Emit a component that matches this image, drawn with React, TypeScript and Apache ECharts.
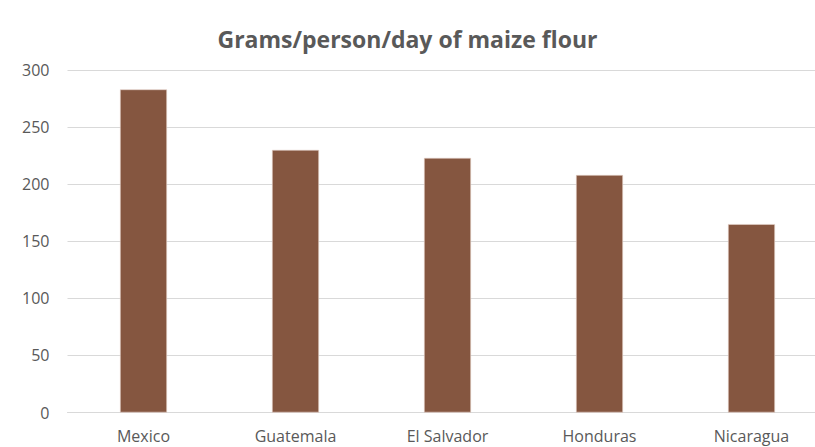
import React, { useEffect, useRef } from "react";
import * as echarts from "echarts";

const categories = ["Mexico", "Guatemala", "El Salvador", "Honduras", "Nicaragua"];
const values = [283, 230, 223, 208, 165];
const titleText = "Grams/person/day of maize flour";

export default function App() {
  const ref = useRef<HTMLDivElement>(null);
  useEffect(() => {
    if (!ref.current) return;
    const chart = echarts.init(ref.current, null, { renderer: "svg" });
    chart.setOption({
      animation: false,
      backgroundColor: "#ffffff",
      title: {
        text: titleText,
        left: "center",
        top: 22,
        textStyle: {
          fontFamily: "Open Sans",
          fontSize: 23,
          fontWeight: "bold",
          color: "#595959",
        },
      },
      grid: {
        left: 67.5,
        top: 70,
        width: 760,
        bottom: 34.5,
        containLabel: false,
        outerBoundsMode: "none",
      },
      xAxis: {
        type: "category",
        data: categories,
        axisLine: { show: true, lineStyle: { color: "#d9d9d9", width: 1 } },
        axisTick: { show: false },
        axisLabel: {
          color: "#595959",
          fontFamily: "Open Sans",
          fontSize: 16,
          margin: 15,
        },
      },
      yAxis: {
        type: "value",
        min: 0,
        max: 300,
        interval: 50,
        axisLine: { show: false },
        axisTick: { show: false },
        splitLine: { lineStyle: { color: "#d9d9d9", width: 1 } },
        axisLabel: {
          color: "#595959",
          fontFamily: "Open Sans",
          fontSize: 16,
          margin: 18,
        },
      },
      series: [
        {
          type: "bar",
          data: values,
          barWidth: 47,
          itemStyle: { color: "#855640", borderColor: "#e8d5cc", borderWidth: 0.6 },
        },
      ],
    });
    return () => chart.dispose();
  }, []);
  return (
    <div
      ref={ref}
      style={{ position: "fixed", left: 0, top: 0, width: 815, height: 447, overflow: "hidden" }}
    />
  );
}
